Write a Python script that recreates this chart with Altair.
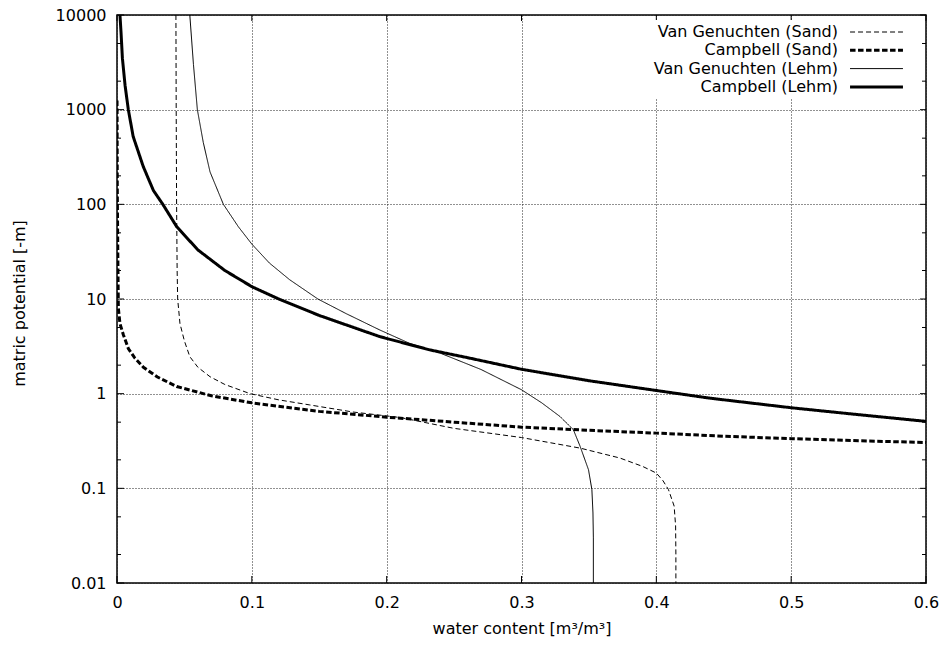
import altair as alt
import pandas as pd

SERIES = ["Van Genuchten (Sand)", "Campbell (Sand)", "Van Genuchten (Lehm)", "Campbell (Lehm)"]

# Van Genuchten (Sand)
vg_sand_x = [0.0437, 0.0439, 0.0442, 0.0446, 0.045, 0.0467, 0.050, 0.054, 0.060, 0.069, 0.080,
             0.0987, 0.12, 0.143, 0.175, 0.21, 0.25, 0.30, 0.3435, 0.373, 0.39, 0.40, 0.405,
             0.409, 0.4132, 0.4143, 0.4145, 0.4145]
vg_sand_y = [10000, 1000, 100, 20, 10, 5.5, 3.6, 2.46, 1.9, 1.51, 1.25,
             1.0, 0.86, 0.76, 0.64, 0.56, 0.43, 0.344, 0.266, 0.209, 0.17, 0.145, 0.12,
             0.097, 0.065, 0.04, 0.02, 0.01]

# Campbell (Sand)
cb_sand_x = [0.00003, 0.0002, 0.0006, 0.001, 0.0022, 0.0047, 0.0084, 0.013, 0.0196, 0.03,
             0.0443, 0.07, 0.10, 0.15, 0.20, 0.25, 0.30, 0.35, 0.40, 0.45, 0.50, 0.55, 0.60]
cb_sand_y = [1250, 150, 30, 8, 5.5, 4.2, 3.0, 2.4, 1.9, 1.5,
             1.19, 0.95, 0.80, 0.65, 0.565, 0.50, 0.443, 0.41, 0.383, 0.355, 0.335, 0.318, 0.305]

# Van Genuchten (Lehm)
vg_lehm_x = [0.054, 0.0567, 0.0596, 0.064, 0.069, 0.0789, 0.09, 0.10, 0.113, 0.128, 0.149,
             0.17, 0.195, 0.217, 0.24, 0.27, 0.30, 0.315, 0.3286, 0.3385, 0.3435, 0.3497,
             0.3522, 0.353, 0.3533, 0.3533]
vg_lehm_y = [10000, 3000, 1000, 450, 220, 100, 58, 38, 24, 16, 10,
             7, 4.7, 3.4, 2.67, 1.8, 1.1, 0.8, 0.573, 0.415, 0.277, 0.157,
             0.097, 0.055, 0.03, 0.01]

# Campbell (Lehm)
cb_lehm_x = [0.0022, 0.003, 0.004, 0.006, 0.0084, 0.012, 0.0195, 0.027, 0.034, 0.0443, 0.06,
             0.08, 0.10, 0.12, 0.15, 0.195, 0.232, 0.26, 0.30, 0.35, 0.40, 0.44, 0.50, 0.55, 0.60]
cb_lehm_y = [10000, 6500, 3500, 1800, 1000, 520, 250, 140, 100, 58, 33,
             20, 13.5, 10, 6.7, 4.0, 2.9, 2.4, 1.81, 1.37, 1.08, 0.895, 0.71, 0.60, 0.51]

X_TICKS = [0, 0.1, 0.2, 0.3, 0.4, 0.5, 0.6]
Y_MAJOR = [0.01, 0.1, 1, 10, 100, 1000, 10000]
Y_MINOR = [0.02, 0.05, 0.2, 0.5, 2, 5, 20, 50, 200, 500, 2000, 5000]

W, H = 809, 568
FONT = "DejaVu Sans"

rows = []
for name, xs, ys in zip(SERIES, [vg_sand_x, cb_sand_x, vg_lehm_x, cb_lehm_x],
                        [vg_sand_y, cb_sand_y, vg_lehm_y, cb_lehm_y]):
    for i, (xv, yv) in enumerate(zip(xs, ys)):
        rows.append({"series": name, "i": i, "x": xv, "y": yv})
df = pd.DataFrame(rows)

xscale = alt.Scale(domain=[0, 0.6], nice=False, zero=False)
yscale = alt.Scale(type="log", domain=[0.01, 10000], nice=False)

common = dict(
    format="~g", domain=False, ticks=False, tickSize=0, labelPadding=11, labelFlush=False,
    labelOverlap=False, grid=True, gridDash=[1, 2], gridColor="#222", gridWidth=1,
    labelFont=FONT, labelFontSize=16, labelColor="black",
    titleFont=FONT, titleFontSize=16, titleColor="black", titleFontWeight="normal",
    titleBaseline="alphabetic",
)
xaxis = alt.Axis(title="water content [m³/m³]", values=X_TICKS, titleY=50, **common)
yaxis = alt.Axis(title="matric potential [-m]", values=Y_MAJOR,
                 titleX=-93, titleY=288, titleAngle=270, **common)

PAD = 4
legend = alt.Legend(
    title=None, orient="none", legendX=521 - PAD, legendY=9 - PAD,
    symbolType="M-5,0H5", symbolSize=112, symbolStrokeColor="black",
    symbolOffset=230.5, labelOffset={"expr": "-46.5"},
    labelAlign="right", labelFont=FONT, labelFontSize=16,
    labelColor="black", labelLimit=400, rowPadding=2.3, padding=PAD,
    fillColor="white",
)

lines = alt.Chart(df).mark_line(clip=True, color="black").encode(
    x=alt.X("x:Q", scale=xscale, axis=xaxis),
    y=alt.Y("y:Q", scale=yscale, axis=yaxis),
    strokeDash=alt.StrokeDash("series:N", scale=alt.Scale(
        domain=SERIES, range=[[5, 3], [5.5, 2.5], [1, 0], [1, 0]]), legend=legend),
    strokeWidth=alt.StrokeWidth("series:N", scale=alt.Scale(
        type="ordinal", domain=SERIES, range=[1, 3, 1, 3]), legend=legend),
    order=alt.Order("i:Q"),
)

xt = pd.DataFrame({"x": X_TICKS})
ymaj = pd.DataFrame({"y": Y_MAJOR})
ymin = pd.DataFrame({"y": Y_MINOR})

def xrule(y1, y2):
    return alt.Chart(xt).mark_rule(color="black", strokeWidth=1).encode(
        x=alt.X("x:Q", scale=xscale, axis=xaxis), y=alt.value(y1), y2=alt.value(y2))

def yrule(data, x1, x2):
    return alt.Chart(data).mark_rule(color="black", strokeWidth=1).encode(
        y=alt.Y("y:Q", scale=yscale, axis=yaxis), x=alt.value(x1), x2=alt.value(x2))

ticks = [
    xrule(H, H - 7), xrule(0, 6),
    yrule(ymaj, 0, 7), yrule(ymaj, W, W - 6),
    yrule(ymin, 0, 4), yrule(ymin, W, W - 4),
]

chart = alt.layer(lines, *ticks).properties(
    width=W, height=H,
    background="white",
    autosize=alt.AutoSizeParams(type="none"),
    padding={"left": 117, "top": 15, "right": 18, "bottom": 63},
).configure_view(
    stroke="black", strokeWidth=1.5, fill="white"
)

chart.save("out.html", embed_options={"renderer": "svg", "actions": False})
